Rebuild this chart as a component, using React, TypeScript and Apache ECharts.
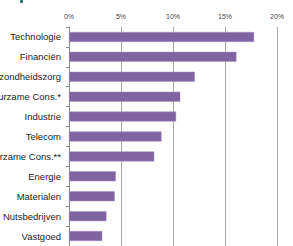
import React, { useEffect, useRef } from "react";
import * as echarts from "echarts";

const categories = [
  "Technologie",
  "Financiën",
  "Gezondheidszorg",
  "Duurzame Cons.*",
  "Industrie",
  "Telecom",
  "Niet-duurzame Cons.**",
  "Energie",
  "Materialen",
  "Nutsbedrijven",
  "Vastgoed",
];
const weights = [17.8, 16.1, 12.1, 10.7, 10.3, 8.9, 8.2, 4.5, 4.4, 3.6, 3.2];
const xTicks = [0, 5, 10, 15, 20];

export default function App() {
  const ref = useRef<HTMLDivElement>(null);
  useEffect(() => {
    if (!ref.current) return;
    const chart = echarts.init(ref.current, null, { renderer: "svg" });
    chart.setOption({
      animation: false,
      backgroundColor: "#ffffff",
      graphic: [
        {
          type: "rect",
          left: 20,
          top: 0,
          shape: { width: 3, height: 3, r: 1 },
          style: { fill: "#1d6f69" },
        },
      ],
      grid: {
        left: 69,
        right: 16,
        top: 27,
        bottom: 0,
        containLabel: false,
        outerBoundsMode: "none",
      },
      xAxis: {
        type: "value",
        position: "top",
        min: xTicks[0],
        max: xTicks[xTicks.length - 1],
        interval: 5,
        axisLine: { show: false },
        axisTick: { show: false },
        axisLabel: {
          formatter: "{value}%",
          fontSize: 7,
          color: "#444",
          fontFamily: "Liberation Sans",
          margin: 7,
        },
        splitLine: { show: true, lineStyle: { color: "#a6a6a6", width: 1 } },
      },
      yAxis: {
        type: "category",
        data: categories,
        inverse: true,
        axisLine: { show: true, lineStyle: { color: "#8c8c8c", width: 1 } },
        axisTick: { show: true, length: 3, lineStyle: { color: "#8c8c8c" } },
        axisLabel: {
          fontSize: 9.5,
          color: "#222",
          fontFamily: "Liberation Sans",
          margin: 8,
        },
      },
      series: [
        {
          type: "bar",
          data: weights,
          barWidth: 10,
          itemStyle: { color: "#8064a2", borderColor: "#a591c0", borderWidth: 0.5 },
        },
      ],
    });
    return () => chart.dispose();
  }, []);
  return <div ref={ref} style={{ width: 293, height: 246, position: "absolute", left: 0, top: 0 }} />;
}
